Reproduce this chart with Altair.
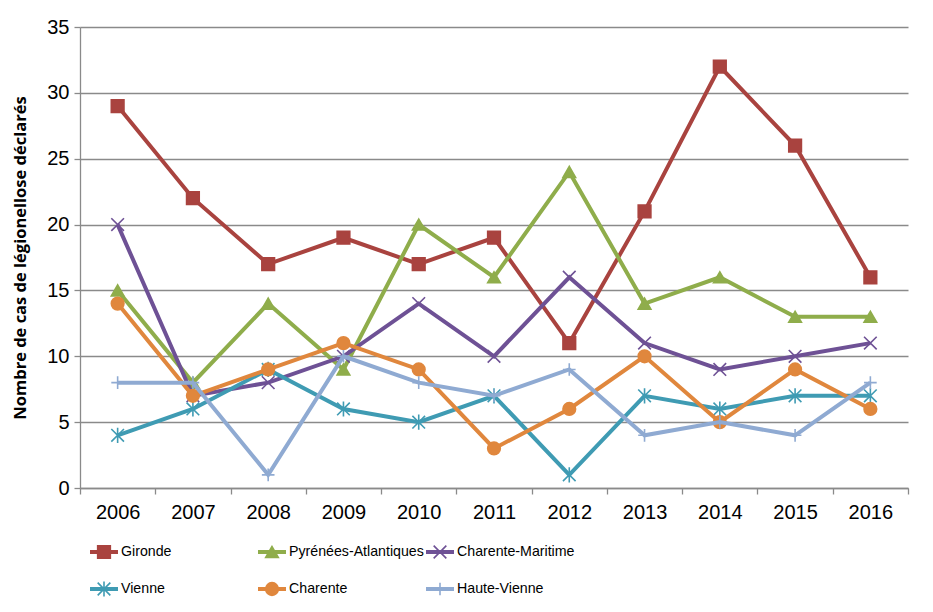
import altair as alt
import pandas as pd

years = [str(y) for y in range(2006, 2017)]
series = ["Gironde", "Pyrénées-Atlantiques", "Charente-Maritime",
          "Vienne", "Charente", "Haute-Vienne"]
gironde = [29, 22, 17, 19, 17, 19, 11, 21, 32, 26, 16]
pyrenees_atl = [15, 8, 14, 9, 20, 16, 24, 14, 16, 13, 13]
charente_mar = [20, 7, 8, 10, 14, 10, 16, 11, 9, 10, 11]
vienne = [4, 6, 9, 6, 5, 7, 1, 7, 6, 7, 7]
charente = [14, 7, 9, 11, 9, 3, 6, 10, 5, 9, 6]
haute_vienne = [8, 8, 1, 10, 8, 7, 9, 4, 5, 4, 8]
legend_col = [0, 1, 2, 0, 1, 2]
legend_row = [0, 0, 0, 1, 1, 1]
y_ticks = [0, 5, 10, 15, 20, 25, 30, 35]

colors = ["#A9433F", "#8FAD4B", "#6E5195", "#3F9BB3", "#E0873D", "#8FAAD2"]
shapes = [
    "square",
    "triangle-up",
    "M-1,-1L1,1M-1,1L1,-1",
    "M-1,-1L1,1M-1,1L1,-1M0,-1.2L0,1.2",
    "circle",
    "M-1,0L1,0M0,-1L0,1",
]

values = [gironde, pyrenees_atl, charente_mar, vienne, charente, haute_vienne]
rows = []
for name, vals in zip(series, values):
    for yr, v in zip(years, vals):
        rows.append({"series": name, "year": yr, "value": v})
df = pd.DataFrame(rows)
leg = pd.DataFrame({"series": series, "col": legend_col, "row": legend_row})

AX_FONT = "Liberation Sans"
GRAY = "#8A8A8A"

color = alt.Color("series:N", scale=alt.Scale(domain=series, range=colors), legend=None)
shape = alt.Shape("series:N", scale=alt.Scale(domain=series, range=shapes), legend=None)
stroke = alt.Stroke("series:N", scale=alt.Scale(domain=series, range=colors), legend=None)

x_enc = alt.X(
    "year:N",
    bandPosition=0.5,
    scale=alt.Scale(type="band", domain=years, paddingInner=0, paddingOuter=0),
    axis=alt.Axis(
        title=None, tickBand="extent", labelAngle=0, labelFont=AX_FONT,
        labelFontSize=20, labelColor="black", labelPadding=8,
        domainColor=GRAY, tickColor=GRAY, tickSize=6, domainWidth=1.3,
        tickWidth=1.3, grid=False,
    ),
)
y_enc = alt.Y(
    "value:Q",
    scale=alt.Scale(domain=[0, 35], nice=False),
    axis=alt.Axis(
        values=y_ticks, title="Nombre de cas de légionellose déclarés",
        titleFont="Open Sans", titleFontSize=16.5, titleFontWeight="bold",
        titleColor="black", titleX=-60, titleY=230.5, titleAngle=-90,
        titleBaseline="middle", titleAlign="center",
        labelFont=AX_FONT, labelFontSize=20, labelColor="black", labelPadding=5,
        domainColor=GRAY, tickColor=GRAY, tickSize=6, domainWidth=1.3,
        tickWidth=1.3, grid=True, gridColor=GRAY, gridWidth=1.3,
    ),
)

layers = []
for name in series:
    base = alt.Chart(df).transform_filter(alt.datum.series == name)
    layers.append(base.mark_line(strokeWidth=4).encode(x=x_enc, y=y_enc, color=color))
    layers.append(
        base.mark_point(filled=True, size=160, strokeWidth=1.6, opacity=1).encode(
            x=x_enc, y=y_enc, color=color, shape=shape, stroke=stroke,
        )
    )
data_layer = alt.layer(*layers)

lx = alt.X("col:Q", scale=alt.Scale(domain=[0, 2], range=[24, 360]), axis=None)
ly = alt.Y("row:Q", scale=alt.Scale(domain=[0, 1], range=[525, 562]), axis=None)
lbase = alt.Chart(leg)
leg_rule = lbase.mark_rule(strokeWidth=4, xOffset=-14, x2Offset=14).encode(
    x=lx, x2="col:Q", y=ly, color=color)
leg_pts = lbase.mark_point(filled=True, size=160, strokeWidth=1.6, opacity=1).encode(
    x=lx, y=ly, color=color, shape=shape, stroke=stroke)
leg_txt = lbase.mark_text(align="left", baseline="middle", dx=17,
                          font=AX_FONT, fontSize=14.2,
                          color="black").encode(x=lx, y=ly, text="series:N")
legend_layer = alt.layer(leg_rule, leg_pts, leg_txt)

chart = (
    alt.layer(data_layer, legend_layer)
    .resolve_scale(x="independent", y="independent")
    .properties(
        width=828, height=461,
        autosize=alt.AutoSizeParams(type="none"),
        padding={"left": 72, "top": 19, "right": 17, "bottom": 110},
        background="white",
    )
    .configure_view(stroke=None)
)

chart.save("out.html", embed_options={"renderer": "svg", "actions": False})
